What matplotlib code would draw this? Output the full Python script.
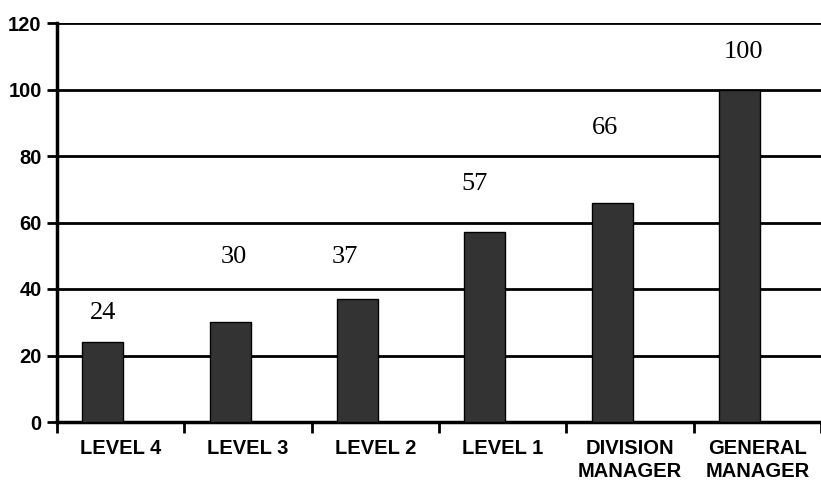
import numpy as np
import matplotlib.pyplot as plt

# Relative pay by grade
categories = ["LEVEL 4", "LEVEL 3", "LEVEL 2", "LEVEL 1",
              "DIVISION\nMANAGER", "GENERAL\nMANAGER"]
values = [24, 30, 37, 57, 66, 100]
y_ticks = [0, 20, 40, 60, 80, 100, 120]

# where the value labels sit (data coords)
label_x = [0.36, 1.39, 2.26, 3.28, 4.30, 5.39]
label_y = [32.8, 49.6, 49.6, 71.7, 88.4, 111.4]

W, H = 821, 482
fig = plt.figure(figsize=(W / 100, H / 100), dpi=100)
fig.patch.set_facecolor("white")

left_px, right_px, top_px, bottom_px = 57, 821, 23, 422
cat_px = 128.5
ax = fig.add_axes([left_px / W, 1 - bottom_px / H,
                   (right_px - left_px) / W, (bottom_px - top_px) / H])

x = np.arange(len(values))
bar_pos = x + 0.36
ax.bar(bar_pos, values, width=0.32, color="#333333",
       edgecolor="black", linewidth=1.0, zorder=3)

for lx, ly, v in zip(label_x, label_y, values):
    ax.text(lx, ly, str(v), ha="center", va="center",
            fontsize=19, family="Liberation Serif", color="black")

ax.set_xlim(0, (right_px - left_px) / cat_px)
ax.set_ylim(0, 120)

# horizontal grid lines behind the bars
ax.set_axisbelow(True)
ax.set_yticks(y_ticks)
ax.yaxis.grid(True, color="black", linewidth=2.0)
ax.set_yticklabels([str(t) for t in y_ticks], fontsize=14.5,
                   fontweight="bold", family="Liberation Sans")

# boundary ticks at integers, category names centred between them
ax.set_xticks(np.arange(len(values) + 1))
ax.set_xticklabels([])
ax.set_xticks(x + 0.5, minor=True)
ax.set_xticklabels(categories, minor=True, fontsize=14.5,
                   fontweight="bold", family="Liberation Sans",
                   linespacing=1.3)
ax.tick_params(axis="x", which="minor", length=0, pad=12)
ax.tick_params(axis="x", which="major", length=8, width=2, direction="out")
ax.tick_params(axis="y", length=7, width=2, direction="out", pad=4)

for s in ["top", "right"]:
    ax.spines[s].set_visible(False)
for s in ["left", "bottom"]:
    ax.spines[s].set_linewidth(2.5)
    ax.spines[s].set_color("black")

fig.savefig("out.png", dpi=100)
